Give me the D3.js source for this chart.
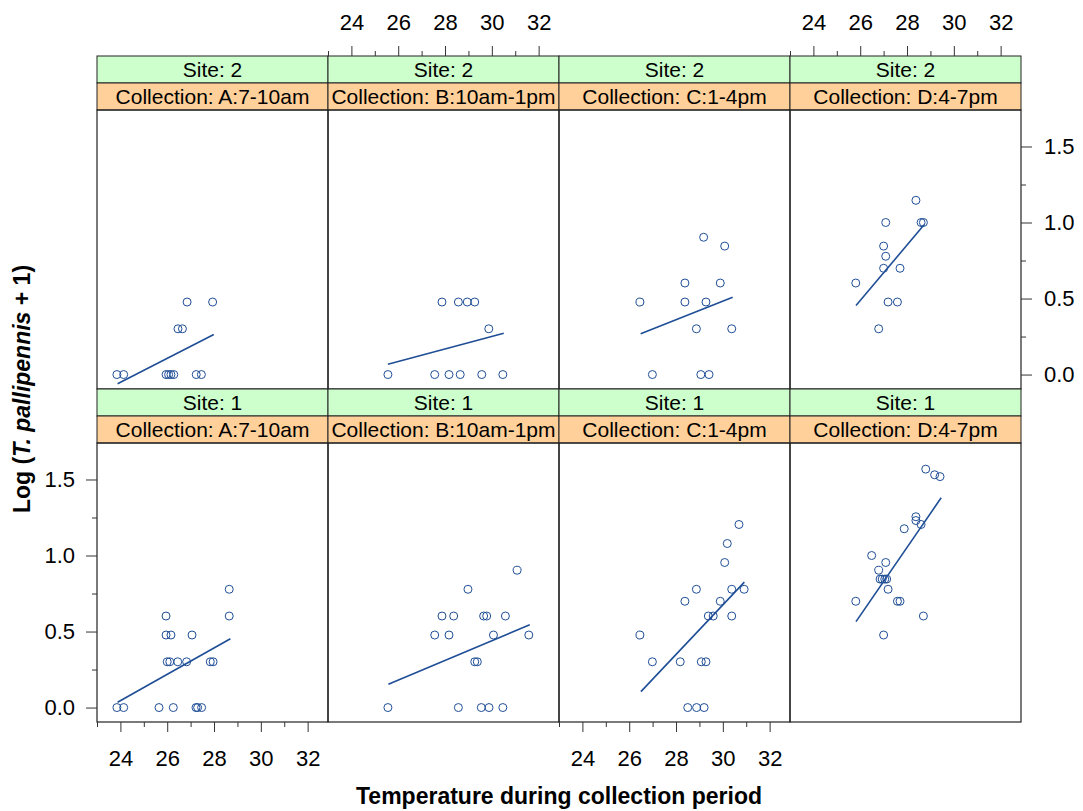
<!DOCTYPE html>
<html>
<head>
<meta charset="utf-8">
<script src="https://cdn.jsdelivr.net/npm/d3@7/dist/d3.min.js"></script>
<style>
  html, body { margin: 0; padding: 0; background: #fff; }
  svg { display: block; font-family: "Liberation Sans", Arial, Helvetica, sans-serif; }
</style>
</head>
<body>
<svg id="chart" width="1083" height="811"></svg>
<script>
// Conditioning levels: rows are sites (top row = Site 2), columns are collection periods
const siteRows = ["2", "1"];
const collections = ["A:7-10am", "B:10am-1pm", "C:1-4pm", "D:4-7pm"];

// Axis ticks
const xMajorTicks = [24, 26, 28, 30, 32];
const xMinorTicks = [23, 25, 27, 29, 31];
const yMajorTicks = [0, 0.5, 1.0, 1.5];
const yMinorTicks = [0.25, 0.75, 1.25];

// Site 2 observations: temperature and log(T. pallipennis + 1)
const tempS2A = [23.85, 24.14, 25.95, 26.06, 26.16, 26.28, 27.24, 27.46, 26.46, 26.65, 26.85, 27.94];
const logS2A  = [0, 0, 0, 0, 0, 0, 0, 0, 0.301, 0.301, 0.477, 0.477];
const tempS2B = [25.56, 27.56, 28.17, 28.65, 29.57, 30.47, 27.87, 28.57, 28.95, 29.27, 29.87];
const logS2B  = [0, 0, 0, 0, 0, 0, 0.477, 0.477, 0.477, 0.477, 0.301];
const tempS2C = [26.99, 29.06, 29.41, 28.87, 30.38, 26.46, 28.38, 29.28, 28.38, 29.89, 30.08, 29.18];
const logS2C  = [0, 0, 0, 0.301, 0.301, 0.477, 0.477, 0.477, 0.602, 0.602, 0.845, 0.903];
const tempS2D = [26.79, 27.19, 27.59, 25.81, 27.0, 27.70, 27.09, 27.0, 27.09, 28.60, 28.70, 28.38];
const logS2D  = [0.301, 0.477, 0.477, 0.602, 0.699, 0.699, 0.778, 0.845, 1.0, 1.0, 1.0, 1.146];

// Site 1 observations
const tempS1A = [23.85, 24.14, 25.65, 26.26, 27.23, 27.30, 27.47, 26.0, 26.11, 26.45, 26.83, 27.84, 27.96, 25.95, 26.16, 27.06, 25.95, 28.65, 28.65];
const logS1A  = [0, 0, 0, 0, 0, 0, 0, 0.301, 0.301, 0.301, 0.301, 0.301, 0.301, 0.477, 0.477, 0.477, 0.602, 0.602, 0.778];
const tempS1B = [25.56, 28.57, 29.55, 29.88, 30.47, 29.27, 29.38, 27.56, 28.17, 30.07, 31.58, 27.87, 28.37, 29.65, 29.78, 30.58, 28.98, 31.08];
const logS1B  = [0, 0, 0, 0, 0, 0.301, 0.301, 0.477, 0.477, 0.477, 0.477, 0.602, 0.602, 0.602, 0.602, 0.602, 0.778, 0.903];
const tempS1C = [28.5, 28.88, 29.2, 26.99, 28.18, 29.08, 29.28, 26.46, 29.38, 29.59, 30.38, 28.38, 29.89, 28.87, 30.38, 30.91, 30.08, 30.19, 30.69];
const logS1C  = [0, 0, 0, 0.301, 0.301, 0.301, 0.301, 0.477, 0.602, 0.602, 0.602, 0.699, 0.699, 0.778, 0.778, 0.778, 0.954, 1.079, 1.204];
const tempS1D = [27.0, 28.70, 25.81, 27.59, 27.70, 27.19, 26.85, 26.94, 27.05, 27.13, 26.79, 27.09, 26.49, 27.88, 28.60, 28.38, 28.38, 28.80, 29.18, 29.41];
const logS1D  = [0.477, 0.602, 0.699, 0.699, 0.699, 0.778, 0.845, 0.845, 0.845, 0.845, 0.903, 0.954, 1.0, 1.176, 1.204, 1.230, 1.255, 1.568, 1.531, 1.519];

// Fitted regression lines per panel, [x start, y start, x end, y end]
const fitS2A = [23.88, -0.061, 27.99, 0.263];
const fitS2B = [25.56, 0.068, 30.51, 0.272];
const fitS2C = [26.49, 0.268, 30.42, 0.509];
const fitS2D = [25.82, 0.454, 28.73, 0.985];
const fitS1A = [23.88, 0.035, 28.70, 0.453];
const fitS1B = [25.58, 0.153, 31.62, 0.545];
const fitS1C = [26.50, 0.105, 30.92, 0.825];
const fitS1D = [25.82, 0.565, 29.46, 1.380];

const panels = [
  { row: 0, col: 0, t: tempS2A, v: logS2A, fit: fitS2A },
  { row: 0, col: 1, t: tempS2B, v: logS2B, fit: fitS2B },
  { row: 0, col: 2, t: tempS2C, v: logS2C, fit: fitS2C },
  { row: 0, col: 3, t: tempS2D, v: logS2D, fit: fitS2D },
  { row: 1, col: 0, t: tempS1A, v: logS1A, fit: fitS1A },
  { row: 1, col: 1, t: tempS1B, v: logS1B, fit: fitS1B },
  { row: 1, col: 2, t: tempS1C, v: logS1C, fit: fitS1C },
  { row: 1, col: 3, t: tempS1D, v: logS1D, fit: fitS1D }
];

// Layout
const left = 97, panelW = 231, stripH = 27, panelH = 279;
const rowTop = [56, 389];             // top of the strip block for each row
const ink = "#1f4e96";
const siteFill = "#ccffcc";
const collFill = "#ffd09a";
const frame = "#222";

const x = d3.scaleLinear().domain([23, 32.87]).range([0, panelW]);
const y = d3.scaleLinear().domain([-0.095, 1.74]).range([panelH, 0]);

const svg = d3.select("#chart");
svg.append("rect").attr("width", 1083).attr("height", 811).attr("fill", "#fff");

panels.forEach(p => {
  const px = left + p.col * panelW;
  const sTop = rowTop[p.row];
  const g = svg.append("g").attr("transform", `translate(${px},${sTop + 2 * stripH})`);

  // strips
  g.append("rect").attr("x", 0).attr("y", -2 * stripH).attr("width", panelW).attr("height", stripH)
    .attr("fill", siteFill).attr("stroke", frame).attr("stroke-width", 1);
  g.append("rect").attr("x", 0).attr("y", -stripH).attr("width", panelW).attr("height", stripH)
    .attr("fill", collFill).attr("stroke", frame).attr("stroke-width", 1);
  g.append("text").attr("x", panelW / 2).attr("y", -2 * stripH + stripH / 2)
    .attr("dy", "0.35em").attr("text-anchor", "middle").attr("font-size", 21)
    .text("Site: " + siteRows[p.row]);
  g.append("text").attr("x", panelW / 2).attr("y", -stripH + stripH / 2)
    .attr("dy", "0.35em").attr("text-anchor", "middle").attr("font-size", 21)
    .text("Collection: " + collections[p.col]);

  // panel frame
  g.append("rect").attr("width", panelW).attr("height", panelH)
    .attr("fill", "none").attr("stroke", frame).attr("stroke-width", 1.2);

  // points
  g.append("g").selectAll("circle").data(p.t.map((t, i) => [t, p.v[i]])).join("circle")
    .attr("cx", d => x(d[0])).attr("cy", d => y(d[1])).attr("r", 4)
    .attr("fill", "none").attr("stroke", ink).attr("stroke-width", 1);

  // fitted line
  g.append("line")
    .attr("x1", x(p.fit[0])).attr("y1", y(p.fit[1]))
    .attr("x2", x(p.fit[2])).attr("y2", y(p.fit[3]))
    .attr("stroke", ink).attr("stroke-width", 1.6);

  // x axes alternate: top row cols 1 & 3 on top, bottom row cols 0 & 2 on bottom
  if (p.row === 0 && p.col % 2 === 1) {
    const ax = g.append("g").attr("transform", `translate(0,${-2 * stripH})`);
    ax.call(d3.axisTop(x).tickValues(xMajorTicks).tickSize(10).tickPadding(16).tickFormat(d3.format("d")));
    ax.append("g").call(d3.axisTop(x).tickValues(xMinorTicks).tickSize(5).tickFormat(""));
    styleAxis(ax);
  }
  if (p.row === 1 && p.col % 2 === 0) {
    const ax = g.append("g").attr("transform", `translate(0,${panelH})`);
    ax.call(d3.axisBottom(x).tickValues(xMajorTicks).tickSize(10).tickPadding(18).tickFormat(d3.format("d")));
    ax.append("g").call(d3.axisBottom(x).tickValues(xMinorTicks).tickSize(5).tickFormat(""));
    styleAxis(ax);
  }
  // y axes: bottom row on the left, top row on the right
  if (p.row === 1 && p.col === 0) {
    const ay = g.append("g");
    ay.call(d3.axisLeft(y).tickValues(yMajorTicks).tickSize(11).tickPadding(11).tickFormat(d3.format(".1f")));
    ay.append("g").call(d3.axisLeft(y).tickValues(yMinorTicks).tickSize(5).tickFormat(""));
    styleAxis(ay);
  }
  if (p.row === 0 && p.col === 3) {
    const ay = g.append("g").attr("transform", `translate(${panelW},0)`);
    ay.call(d3.axisRight(y).tickValues(yMajorTicks).tickSize(11).tickPadding(12).tickFormat(d3.format(".1f")));
    ay.append("g").call(d3.axisRight(y).tickValues(yMinorTicks).tickSize(5).tickFormat(""));
    styleAxis(ay);
  }
});

function styleAxis(sel) {
  sel.selectAll(".domain").remove();
  sel.selectAll("line").attr("stroke", "#333").attr("stroke-width", 1);
  sel.selectAll("text").attr("font-size", 22).attr("fill", "#000")
    .attr("font-family", "'Liberation Sans', Arial, sans-serif");
}

// axis titles
svg.append("text").attr("x", left + 2 * panelW).attr("y", 804)
  .attr("text-anchor", "middle").attr("font-size", 23).attr("font-weight", "bold")
  .text("Temperature during collection period");

const yt = svg.append("text")
  .attr("transform", "translate(30,389) rotate(-90)")
  .attr("text-anchor", "middle").attr("font-size", 23).attr("font-weight", "bold");
yt.append("tspan").text("Log (");
yt.append("tspan").attr("font-style", "italic").text("T. pallipennis");
yt.append("tspan").text(" + 1)");
</script>
</body>
</html>
